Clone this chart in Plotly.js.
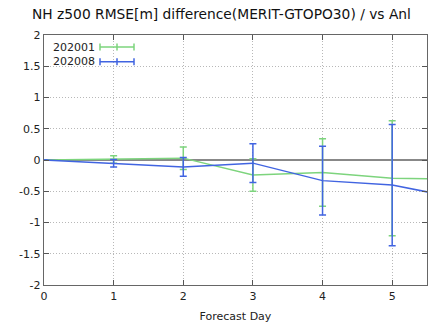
<!DOCTYPE html>
<html>
<head>
<meta charset="utf-8">
<script src="https://cdn.plot.ly/plotly-3.0.1.min.js"></script>
<style>html,body{margin:0;padding:0;background:#fff;}#chart{width:445px;height:331px;}</style>
</head>
<body>
<div id="chart"></div>
<script>
const days = [0, 1, 2, 3, 4, 5, 6];
const seriesNames = ["202001", "202008"];
const green202001 = [0, 0.01, 0.03, -0.24, -0.2, -0.29, -0.31];
const greenErr202001 = [0, 0.06, 0.18, 0.26, 0.54, 0.92, 1.1];
const blue202008 = [0, -0.05, -0.11, -0.05, -0.33, -0.40, -0.62];
const blueErr202008 = [0, 0.06, 0.15, 0.31, 0.55, 0.97, 1.2];
const xTickVals = [0, 1, 2, 3, 4, 5];
const xTickText = ["0", "1", "2", "3", "4", "5"];
const yTickVals = [-2, -1.5, -1, -0.5, 0, 0.5, 1, 1.5, 2];
const yTickText = ["-2", "-1.5", "-1", "-0.5", "0", "0.5", "1", "1.5", "2"];

const GREEN = "rgb(125,212,125)";
const BLUE = "rgb(65,100,225)";
const FONT = "DejaVu Sans, sans-serif";

function trace(y, err, color, name) {
  return {
    x: days, y: y, name: name, type: "scatter", mode: "lines",
    line: {color: color, width: 1.5},
    error_y: {type: "data", array: err, visible: true, color: color, thickness: 1.5, width: 3.5},
    showlegend: false, cliponaxis: true
  };
}

const data = [
  trace(green202001, greenErr202001, GREEN, seriesNames[0]),
  trace(blue202008, blueErr202008, BLUE, seriesNames[1])
];

// legend drawn manually (gnuplot style: text then sample)
const L = 44, R = 427, T = 35, B = 285;
const px = v => (v - L) / (R - L);
const py = v => (B - v) / (B - T);
const shapes = [];
const annotations = [];
[[GREEN, 47, seriesNames[0]], [BLUE, 61.7, seriesNames[1]]].forEach(([c, yy, nm]) => {
  shapes.push({type: "line", xref: "paper", yref: "paper", x0: px(100), x1: px(134), y0: py(yy), y1: py(yy), line: {color: c, width: 1.5}});
  [100, 117, 134].forEach(xx => {
    shapes.push({type: "line", xref: "paper", yref: "paper", x0: px(xx), x1: px(xx), y0: py(yy - 3.5), y1: py(yy + 3.5), line: {color: c, width: 1.5}});
  });
  annotations.push({xref: "paper", yref: "paper", x: px(51), y: py(yy), xanchor: "left", yanchor: "middle", text: nm, showarrow: false, font: {family: FONT, size: 11, color: "#222"}});
});

const layout = {
  width: 445, height: 331,
  margin: {l: L, r: 445 - R, t: T, b: 331 - B, pad: 0},
  paper_bgcolor: "#fff", plot_bgcolor: "#fff",
  font: {family: FONT, size: 11, color: "#222"},
  title: {text: "NH z500 RMSE[m] difference(MERIT-GTOPO30) / vs Anl", x: 32 / 445, xanchor: "left", xref: "container", y: 1 - 14 / 331, yanchor: "middle", yref: "container", font: {family: FONT, size: 13.8, color: "#111"}},
  xaxis: {
    range: [0, 5.5], tickvals: xTickVals, ticktext: xTickText,
    showgrid: true, gridcolor: "#b8b8b8", griddash: "1px,2px", gridwidth: 1,
    zeroline: false, showline: true, linecolor: "#666", linewidth: 1.3, mirror: "ticks",
    ticks: "inside", ticklen: 5, tickcolor: "#555", tickwidth: 1,
    tickfont: {family: FONT, size: 11, color: "#222"},
    title: {text: "Forecast Day", font: {family: FONT, size: 11, color: "#222"}, standoff: 10}
  },
  yaxis: {
    range: [-2, 2], tickvals: yTickVals, ticktext: yTickText,
    showgrid: true, gridcolor: "#b8b8b8", griddash: "1px,2px", gridwidth: 1,
    zeroline: true, zerolinecolor: "#888", zerolinewidth: 1.3,
    showline: true, linecolor: "#666", linewidth: 1.3, mirror: "ticks",
    ticks: "inside", ticklen: 5, tickcolor: "#555", tickwidth: 1,
    tickfont: {family: FONT, size: 11, color: "#222"}
  },
  shapes: shapes, annotations: annotations, showlegend: false
};

Plotly.newPlot("chart", data, layout, {displayModeBar: false, staticPlot: true});
</script>
</body>
</html>
